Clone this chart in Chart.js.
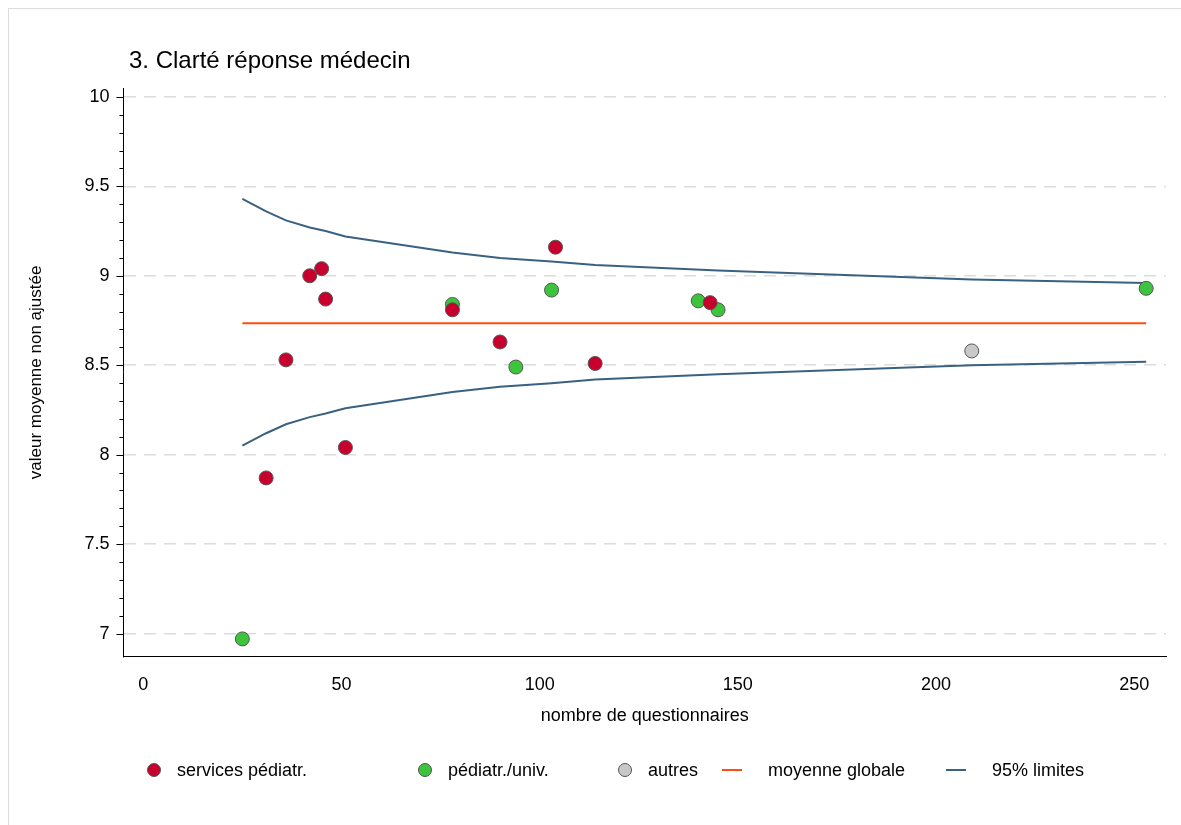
<!DOCTYPE html>
<html>
<head>
<meta charset="utf-8">
<script src="https://cdn.jsdelivr.net/npm/chart.js@4"></script>
<style>
  body { margin: 0; background: #fff; }
  #wrap { position: absolute; left: 8px; top: 8px; width: 1173px; height: 817px; border-left: 1px solid #ddd; border-top: 1px solid #ddd; }
  canvas { position: absolute; left: 0; top: 0; }
  #title { position: absolute; left: 120px; top: 37px; font: 24px "Liberation Sans", Arial, sans-serif; color: #000; }
  #legend { position: absolute; top: 750px; left: 0; font: 18px "Liberation Sans", Arial, sans-serif; color: #000; }
  .item { position: absolute; white-space: nowrap; display: flex; align-items: center; height: 22px; }
  .dot { width: 12px; height: 12px; border-radius: 50%; border: 1px solid #555; margin-right: 16px; }
  .ln { width: 20px; height: 2px; margin-right: 26px; }
</style>
</head>
<body>
<div id="wrap"><canvas id="chart" width="1173" height="817"></canvas><div id="title">3. Clarté réponse médecin</div><div id="legend"></div></div>
<script>
// données
const pediatrX = [31, 36, 42, 45, 46, 51, 78, 90, 104, 114, 143];
const pediatrY = [7.87, 8.53, 9.0, 9.04, 8.87, 8.04, 8.81, 8.63, 9.16, 8.51, 8.85];
const univX = [25, 78, 94, 103, 140, 145, 253];
const univY = [6.97, 8.84, 8.49, 8.92, 8.86, 8.81, 8.93];
const autresX = [209];
const autresY = [8.58];
const moyenne = 8.735;
const limitX = [25, 31, 36, 42, 46, 51, 78, 90, 103, 114, 145, 209, 253];
const upperY = [9.43, 9.36, 9.31, 9.27, 9.25, 9.22, 9.13, 9.10, 9.08, 9.06, 9.03, 8.98, 8.96];
const lowerY = [8.05, 8.12, 8.17, 8.21, 8.23, 8.26, 8.35, 8.38, 8.40, 8.42, 8.45, 8.50, 8.52];
const yTicks = [7, 7.5, 8, 8.5, 9, 9.5, 10];
const xTicks = [0, 50, 100, 150, 200, 250];

function pts(xs, ys) {
  return xs.map((x, i) => ({ x: x, y: ys[i] }));
}

const dot = (label, color, xs, ys) => ({
  type: "scatter",
  label: label,
  data: pts(xs, ys),
  backgroundColor: color,
  borderColor: "#555",
  borderWidth: 1,
  pointRadius: 7,
  pointStyle: "circle",
});

// petites graduations de l'axe y
const minorTicks = {
  id: "minorTicks",
  afterDraw(chart) {
    const ctx = chart.ctx, y = chart.scales.y;
    ctx.save();
    ctx.strokeStyle = "#000";
    ctx.lineWidth = 1;
    for (let v = 7; v <= 10.001; v += 0.1) {
      const py = Math.round(y.getPixelForValue(v)) + 0.5;
      const major = Math.abs(v * 2 - Math.round(v * 2)) < 0.01;
      ctx.beginPath();
      ctx.moveTo(y.right, py);
      ctx.lineTo(y.right - (major ? 7 : 4), py);
      ctx.stroke();
    }
    ctx.restore();
  },
};

const font = { family: "Liberation Sans", size: 18 };

const chart = new Chart(document.getElementById("chart"), {
  data: {
    datasets: [
      dot("services pédiatr.", "#c8002d", pediatrX, pediatrY),
      dot("pédiatr./univ.", "#3cc43c", univX, univY),
      dot("autres", "#c8c8c8", autresX, autresY),
      {
        type: "line",
        label: "moyenne globale",
        data: [{ x: 25, y: moyenne }, { x: 253, y: moyenne }],
        borderColor: "#ff4e0f",
        borderWidth: 2,
        pointRadius: 0,
        order: 5,
      },
      {
        type: "line",
        label: "95% limites",
        data: pts(limitX, upperY),
        borderColor: "#3b6180",
        borderWidth: 2,
        pointRadius: 0,
        order: 5,
      },
      {
        type: "line",
        label: "95% limites bas",
        data: pts(limitX, lowerY),
        borderColor: "#3b6180",
        borderWidth: 2,
        pointRadius: 0,
        order: 5,
      },
    ],
  },
  options: {
    responsive: false,
    animation: false,
    layout: { padding: { left: 17, right: 16, top: 79, bottom: 99 } },
    plugins: {
      legend: { display: false },
      tooltip: { enabled: false },
    },
    scales: {
      x: {
        type: "linear",
        min: -5,
        max: 258,
        grid: { display: false, tickLength: 7, tickColor: "#000" },
        border: { color: "#000", width: 1 },
        ticks: { color: "#000", padding: 10, font: font },
        afterBuildTicks: (s) => { s.ticks = xTicks.map((v) => ({ value: v })); },
        title: { display: true, text: "nombre de questionnaires", color: "#000", font: font, padding: { top: 0, bottom: 0 } },
      },
      y: {
        type: "linear",
        min: 6.87,
        max: 10.05,
        afterBuildTicks: (s) => { s.ticks = yTicks.map((v) => ({ value: v })); },
        grid: { color: "#dcdcdc", lineWidth: 1.5, drawTicks: false },
        border: { color: "#000", width: 1, dash: [12, 8] },
        ticks: { color: "#000", padding: 14, font: font, callback: (v) => String(v) },
        title: { display: true, text: "valeur moyenne non ajustée", color: "#000", font: { family: "Liberation Sans", size: 17 }, padding: { top: 0, bottom: 24 } },
      },
    },
  },
  plugins: [minorTicks],
});

// légende en HTML, positions
const legendItems = [
  { text: "services pédiatr.", color: "#c8002d", kind: "dot", left: 138 },
  { text: "pédiatr./univ.", color: "#3cc43c", kind: "dot", left: 409 },
  { text: "autres", color: "#c8c8c8", kind: "dot", left: 609 },
  { text: "moyenne globale", color: "#ff4e0f", kind: "ln", left: 713 },
  { text: "95% limites", color: "#3b6180", kind: "ln", left: 937 },
];
const legend = document.getElementById("legend");
legendItems.forEach((it) => {
  const div = document.createElement("div");
  div.className = "item";
  div.style.left = it.left + "px";
  const m = document.createElement("span");
  m.className = it.kind;
  m.style.background = it.color;
  div.appendChild(m);
  div.appendChild(document.createTextNode(it.text));
  legend.appendChild(div);
});
</script>
</body>
</html>
